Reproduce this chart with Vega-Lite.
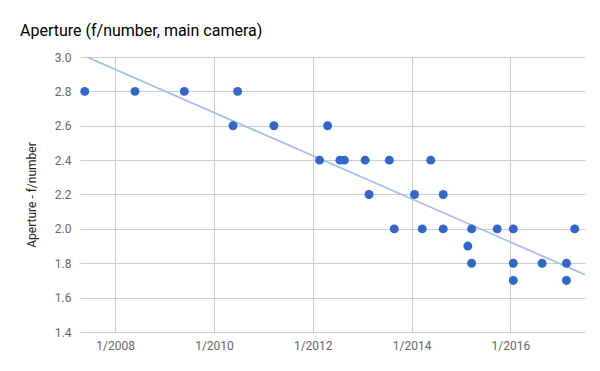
{
  "$schema": "https://vega.github.io/schema/vega-lite/v6.json",
  "width": 505,
  "height": 275,
  "autosize": {"type": "none"},
  "padding": {"left": 80, "top": 57, "right": 15, "bottom": 39},
  "background": "white",
  "config": {"view": {"stroke": null}, "font": "Roboto"},
  "title": {"text": "Aperture (f/number, main camera)", "anchor": "start", "frame": "group", "dx": -60, "offset": 12, "fontSize": 16, "fontWeight": "normal", "color": "#000000", "font": "Roboto"},
  "data": {
    "values": [
      {"date": "2007-05-22", "f": 2.8},
      {"date": "2008-05-27", "f": 2.8},
      {"date": "2009-05-27", "f": 2.8},
      {"date": "2010-06-25", "f": 2.8},
      {"date": "2010-05-22", "f": 2.6},
      {"date": "2011-03-20", "f": 2.6},
      {"date": "2012-04-20", "f": 2.6},
      {"date": "2012-02-20", "f": 2.4},
      {"date": "2012-07-20", "f": 2.4},
      {"date": "2012-08-22", "f": 2.4},
      {"date": "2013-01-22", "f": 2.4},
      {"date": "2013-07-20", "f": 2.4},
      {"date": "2014-05-22", "f": 2.4},
      {"date": "2013-02-20", "f": 2.2},
      {"date": "2014-01-22", "f": 2.2},
      {"date": "2014-08-22", "f": 2.2},
      {"date": "2013-08-25", "f": 2.0},
      {"date": "2014-03-20", "f": 2.0},
      {"date": "2014-08-22", "f": 2.0},
      {"date": "2015-03-20", "f": 2.0},
      {"date": "2015-09-25", "f": 2.0},
      {"date": "2016-01-22", "f": 2.0},
      {"date": "2017-04-20", "f": 2.0},
      {"date": "2015-02-20", "f": 1.9},
      {"date": "2015-03-20", "f": 1.8},
      {"date": "2016-01-22", "f": 1.8},
      {"date": "2016-08-22", "f": 1.8},
      {"date": "2017-02-18", "f": 1.8},
      {"date": "2016-01-22", "f": 1.7},
      {"date": "2017-02-18", "f": 1.7}
    ],
    "format": {"parse": {"date": "date"}}
  },
  "encoding": {
    "x": {
      "field": "date", "type": "temporal",
      "scale": {"type": "utc", "domain": [1176768000000, 1499212800000]},
      "axis": {
        "title": null,
        "values": [
          {"year": 2008, "month": 1, "date": 1, "utc": true},
          {"year": 2010, "month": 1, "date": 1, "utc": true},
          {"year": 2012, "month": 1, "date": 1, "utc": true},
          {"year": 2014, "month": 1, "date": 1, "utc": true},
          {"year": 2016, "month": 1, "date": 1, "utc": true}
        ],
        "labelExpr": "'1/' + utcFormat(datum.value, '%Y')",
        "grid": true, "gridColor": "#cccccc",
        "domain": false, "ticks": false,
        "labelColor": "#666666", "labelFontSize": 12, "labelPadding": 8, "labelFont": "Roboto", "labelOverlap": false
      }
    },
    "y": {
      "field": "f", "type": "quantitative",
      "scale": {"domain": [1.4, 3.0], "nice": false, "zero": false},
      "axis": {
        "title": "Aperture - f/number",
        "values": [1.4, 1.6, 1.8, 2.0, 2.2, 2.4, 2.6, 2.8, 3.0],
        "format": ".1f",
        "grid": true, "gridColor": "#cccccc",
        "domain": false, "ticks": false,
        "labelColor": "#666666", "labelFontSize": 12, "labelPadding": 9, "labelFont": "Roboto", "labelOverlap": false,
        "titleFontWeight": "normal", "titleFontSize": 12, "titleColor": "#222222", "titleFont": "Roboto", "titlePadding": 16
      }
    }
  },
  "layer": [
    {
      "transform": [{"regression": "f", "on": "date", "extent": [1176768000000, 1499212800000]}],
      "mark": {"type": "line", "color": "#a6bfee", "strokeWidth": 1.8, "clip": true}
    },
    {
      "mark": {"type": "point", "filled": true, "shape": "circle", "size": 80, "color": "#3366cc", "opacity": 1}
    }
  ]
}
